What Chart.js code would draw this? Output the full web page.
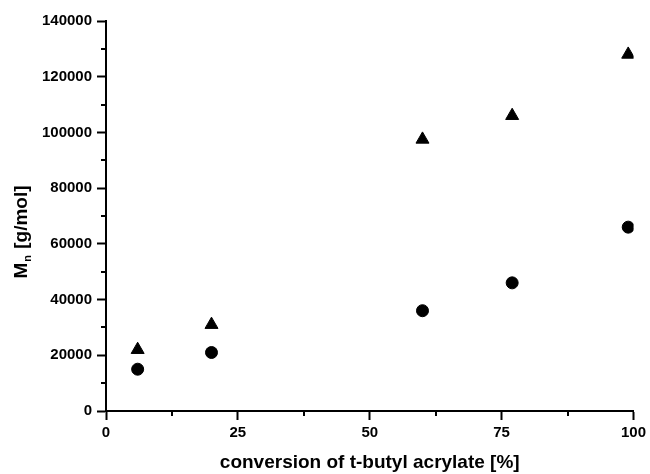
<!DOCTYPE html>
<html>
<head>
<meta charset="utf-8">
<script src="https://cdn.jsdelivr.net/npm/chart.js@4/dist/chart.umd.min.js"></script>
<style>
  html, body { margin: 0; padding: 0; background: #fff; }
  #wrap { width: 650px; height: 474px; }
</style>
</head>
<body>
<div id="wrap"><canvas id="grafico" width="650" height="474"></canvas></div>
<script>
// --- datos ---
const conversion = [6, 20, 60, 77, 99];                       // % de conversión
const mnTriangulos = [22000, 31000, 97500, 106000, 128000];   // serie triángulos
const mnCirculos = [15000, 21000, 36000, 46000, 66000];       // serie círculos

const xTicks = [0, 25, 50, 75, 100];
const yTicks = [0, 20000, 40000, 60000, 80000, 100000, 120000, 140000];
const xMinor = [12.5, 37.5, 62.5, 87.5];
const yMinor = [10000, 30000, 50000, 70000, 90000, 110000, 130000];

const FUENTE = "'Liberation Sans', Arial, sans-serif";

function puntos(xs, ys) {
    return xs.map((x, i) => ({ x: x, y: ys[i] }));
}

// ticks menores + título del eje Y con subíndice
const extrasPlugin = {
    id: 'extras',
    afterDraw(chart) {
        const ctx = chart.ctx;
        const sx = chart.scales.x;
        const sy = chart.scales.y;
        ctx.save();
        ctx.strokeStyle = '#000';
        ctx.lineWidth = 2;
        ctx.beginPath();
        xMinor.forEach(v => {
            const px = Math.round(sx.getPixelForValue(v));
            ctx.moveTo(px, sy.bottom);
            ctx.lineTo(px, sy.bottom + 5);
        });
        yMinor.forEach(v => {
            const py = Math.round(sy.getPixelForValue(v));
            ctx.moveTo(sx.left, py);
            ctx.lineTo(sx.left - 5, py);
        });
        ctx.stroke();

        // título Y: "Mn [g/mol]" girado
        const fGrande = 'bold 19px ' + FUENTE;
        const fSub = 'bold 11px ' + FUENTE;
        ctx.font = fGrande;
        const wM = ctx.measureText('M').width;
        const wResto = ctx.measureText(' [g/mol]').width;
        ctx.font = fSub;
        const wN = ctx.measureText('n').width;
        const total = wM + wN + 2 + wResto;

        ctx.translate(21, 232);
        ctx.rotate(-Math.PI / 2);
        ctx.fillStyle = '#000';
        ctx.textBaseline = 'alphabetic';
        ctx.textAlign = 'left';
        let x0 = -total / 2;
        ctx.font = fGrande;
        ctx.fillText('M', x0, 6);
        ctx.font = fSub;
        ctx.fillText('n', x0 + wM + 1, 10);
        ctx.font = fGrande;
        ctx.fillText(' [g/mol]', x0 + wM + wN + 2, 6);
        ctx.restore();
    }
};

new Chart(document.getElementById('grafico'), {
    type: 'scatter',
    data: {
        datasets: [
            {
                label: 'triángulos',
                data: puntos(conversion, mnTriangulos),
                pointStyle: 'triangle',
                pointRadius: 7.5,
                pointHoverRadius: 7.5,
                backgroundColor: '#000',
                borderColor: '#000',
                borderWidth: 1
            },
            {
                label: 'círculos',
                data: puntos(conversion, mnCirculos),
                pointStyle: 'circle',
                pointRadius: 6,
                pointHoverRadius: 6,
                backgroundColor: '#000',
                borderColor: '#000',
                borderWidth: 1
            }
        ]
    },
    options: {
        responsive: false,
        animation: false,
        devicePixelRatio: 1,
        layout: { padding: { left: 0, right: 13, top: 21, bottom: 0 } },
        plugins: {
            legend: { display: false },
            tooltip: { enabled: false }
        },
        scales: {
            x: {
                type: 'linear',
                min: 0,
                max: 100,
                afterBuildTicks: s => { s.ticks = xTicks.map(v => ({ value: v })); },
                afterFit: s => { s.height = 63; },
                border: { display: true, color: '#000', width: 2 },
                grid: { drawOnChartArea: false, drawTicks: true, tickLength: 9, tickWidth: 2, tickColor: '#000' },
                ticks: { color: '#000', padding: 4, maxRotation: 0, font: { family: FUENTE, size: 15, weight: 'bold' } },
                title: {
                    display: true,
                    text: 'conversion of t-butyl acrylate [%]',
                    color: '#000',
                    padding: { top: 0, bottom: 0 },
                    font: { family: FUENTE, size: 19, weight: 'bold', lineHeight: 1.2 }
                }
            },
            y: {
                type: 'linear',
                min: 0,
                max: 140000,
                afterBuildTicks: s => { s.ticks = yTicks.map(v => ({ value: v })); },
                afterFit: s => { s.width = 106; },
                border: { display: true, color: '#000', width: 2 },
                grid: { drawOnChartArea: false, drawTicks: true, tickLength: 9, tickWidth: 2, tickColor: '#000' },
                ticks: { color: '#000', padding: 5, font: { family: FUENTE, size: 15, weight: 'bold' },
                         callback: v => String(v) }
            }
        }
    },
    plugins: [extrasPlugin]
});
</script>
</body>
</html>
